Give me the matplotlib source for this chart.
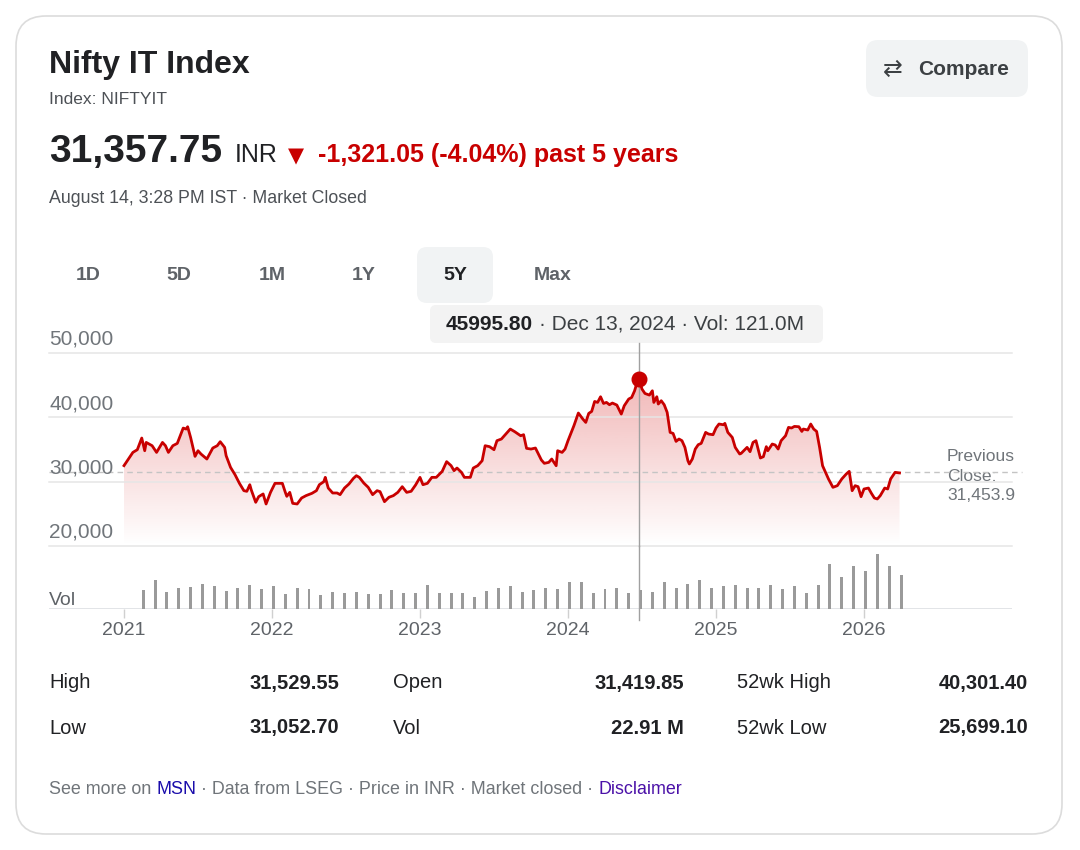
import numpy as np
import matplotlib
matplotlib.use("Agg")
import matplotlib.pyplot as plt
from matplotlib.patches import FancyBboxPatch
from matplotlib.colors import to_rgb

plt.rcParams['font.family'] = ['Liberation Sans', 'DejaVu Sans']

# ---------------- data ----------------
title = "Nifty IT Index"
subtitle = "Index: NIFTYIT"
last_price = "31,357.75"
currency = "INR"
change_text = "-1,321.05 (-4.04%) past 5 years"
timestamp = "August 14, 3:28 PM IST · Market Closed"
ranges = ["1D", "5D", "1M", "1Y", "5Y", "Max"]
active_range = "5Y"
tooltip_price = "45995.80"
tooltip_rest = "· Dec 13, 2024 · Vol: 121.0M"
prev_close = 31453.9
prev_close_label = "Previous\nClose:\n31,453.9"

price_t = [2021.00, 2021.03, 2021.06, 2021.09, 2021.12, 2021.14, 2021.15, 2021.19, 2021.22, 2021.26,
           2021.28, 2021.30, 2021.33, 2021.36, 2021.40, 2021.42, 2021.43, 2021.45, 2021.48, 2021.50,
           2021.52, 2021.56, 2021.60, 2021.63, 2021.65, 2021.68, 2021.69, 2021.72, 2021.75, 2021.78,
           2021.81, 2021.83, 2021.85, 2021.86, 2021.89, 2021.91, 2021.94, 2021.96, 2021.99, 2022.02,
           2022.07, 2022.09, 2022.10, 2022.12, 2022.14, 2022.17, 2022.20, 2022.23, 2022.27, 2022.30,
           2022.32, 2022.35, 2022.36, 2022.38, 2022.41, 2022.44, 2022.46, 2022.49, 2022.52, 2022.55,
           2022.57, 2022.59, 2022.62, 2022.65, 2022.68, 2022.71, 2022.73, 2022.76, 2022.79, 2022.82,
           2022.85, 2022.88, 2022.91, 2022.94, 2022.97, 2023.00, 2023.02, 2023.05, 2023.08, 2023.11,
           2023.15, 2023.18, 2023.21, 2023.23, 2023.25, 2023.28, 2023.30, 2023.34, 2023.36, 2023.39,
           2023.42, 2023.44, 2023.47, 2023.50, 2023.52, 2023.55, 2023.58, 2023.61, 2023.64, 2023.68,
           2023.70, 2023.72, 2023.75, 2023.78, 2023.82, 2023.84, 2023.87, 2023.89, 2023.92, 2023.93,
           2023.96, 2023.98, 2024.00, 2024.04, 2024.07, 2024.10, 2024.12, 2024.14, 2024.16, 2024.18,
           2024.20, 2024.22, 2024.24, 2024.26, 2024.28, 2024.30, 2024.33, 2024.34, 2024.36, 2024.38,
           2024.41, 2024.43, 2024.45, 2024.46, 2024.48, 2024.50, 2024.52, 2024.55, 2024.57, 2024.58,
           2024.60, 2024.61, 2024.63, 2024.65, 2024.67, 2024.69, 2024.71, 2024.73, 2024.75, 2024.77,
           2024.79, 2024.81, 2024.82, 2024.84, 2024.86, 2024.88, 2024.90, 2024.93, 2024.95, 2024.98,
           2025.00, 2025.02, 2025.05, 2025.06, 2025.08, 2025.11, 2025.13, 2025.16, 2025.17, 2025.21,
           2025.23, 2025.25, 2025.27, 2025.30, 2025.32, 2025.34, 2025.35, 2025.38, 2025.40, 2025.42,
           2025.44, 2025.47, 2025.49, 2025.51, 2025.53, 2025.56, 2025.58, 2025.59, 2025.62, 2025.64,
           2025.66, 2025.68, 2025.70, 2025.72, 2025.74, 2025.76, 2025.79, 2025.82, 2025.85, 2025.88,
           2025.90, 2025.92, 2025.94, 2025.96, 2025.98, 2026.00, 2026.03, 2026.05, 2026.07, 2026.09,
           2026.11, 2026.14, 2026.16, 2026.18, 2026.21, 2026.24]

price_v = [32490, 33520, 34550, 34970, 36780, 34810, 36100, 35590, 34550, 36100,
           35590, 34550, 35590, 35950, 38330, 38180, 38540, 36880, 33930, 34810,
           34300, 33520, 35230, 35590, 36210, 35330, 34040, 32220, 31090, 29740,
           28600, 28500, 29530, 28710, 26790, 27670, 28090, 26530, 28340, 29740,
           29740, 28340, 27720, 28340, 26630, 26530, 27460, 27830, 28190, 28600,
           29530, 30000, 30670, 29010, 28240, 28240, 27980, 29010, 29640, 30510,
           30930, 30670, 29790, 29120, 27980, 28600, 28450, 26890, 27570, 27830,
           28340, 29220, 28340, 28500, 29480, 30670, 29530, 29740, 30670, 30670,
           31600, 33110, 32490, 31710, 32120, 31450, 30670, 30670, 32120, 32490,
           33260, 35590, 35440, 34970, 36370, 36630, 37400, 38180, 37770, 37140,
           37300, 35180, 35070, 35230, 33370, 32850, 33000, 33520, 32480, 34810,
           34550, 35070, 36370, 38700, 40670, 39740, 39210, 40610, 40920, 42470,
           42320, 43200, 42160, 42320, 41960, 42220, 41910, 41450, 40510, 41800,
           42840, 43090, 44130, 44910, 45995.80, 44390, 43710, 43460, 44130, 42320,
           43200, 42070, 42580, 41960, 40770, 37660, 37500, 36260, 36630, 36370,
           35330, 33260, 32750, 33520, 35070, 35750, 35950, 37660, 37400, 37300,
           38340, 38960, 38850, 39060, 37660, 36880, 35330, 34300, 34400, 35330,
           34660, 36100, 36370, 33680, 33880, 35440, 34810, 35850, 35700, 35070,
           36370, 37140, 38440, 38340, 38590, 38540, 37810, 38180, 38030, 38960,
           38180, 37810, 35330, 32480, 31450, 30420, 29120, 29380, 30420, 31190,
           31600, 28600, 29380, 29220, 27670, 28860, 29010, 28190, 27460, 27310,
           27830, 29010, 28860, 30420, 31450, 31357.75]

vol_start = 2021.13
vol_step = 0.08
vol_m = [121, 184, 106, 131, 138, 157, 146, 117, 134, 153,
         125, 144, 95, 131, 125, 87, 110, 104, 106, 95,
         95, 121, 102, 104, 153, 102, 102, 102, 78, 117,
         131, 144, 108, 121, 136, 127, 174, 172, 100, 129,
         131, 104, 121, 108, 174, 131, 157, 184, 136, 146,
         153, 136, 131, 153, 125, 148, 102, 153, 286, 201,
         276, 242, 348, 273, 218]
vol_t = vol_start + vol_step * np.arange(len(vol_m))

year_ticks = [2021, 2022, 2023, 2024, 2025, 2026]
price_ticks = [20000, 30000, 40000, 50000]

stats_rows = [
    [("High", "31,529.55"), ("Open", "31,419.85"), ("52wk High", "40,301.40")],
    [("Low", "31,052.70"), ("Vol", "22.91 M"), ("52wk Low", "25,699.10")],
]

# ---------------- style ----------------
RED = "#c80000"
DARK = "#202124"
GRAY = "#5f6368"
LGRAY = "#70757a"
GRID = "#e6e6e6"

W, H = 1080, 850
fig = plt.figure(figsize=(W / 100, H / 100), dpi=100)
fig.patch.set_facecolor("white")

bg = fig.add_axes([0, 0, 1, 1])
bg.set_xlim(0, W)
bg.set_ylim(H, 0)
bg.axis("off")
bg.set_zorder(0)

def fr(x0, y0, x1, y1):
    return [x0 / W, 1 - y1 / H, (x1 - x0) / W, (y1 - y0) / H]

# card
bg.add_patch(FancyBboxPatch((16, 16), 1046, 818, boxstyle="round,pad=0,rounding_size=30",
                            fc="white", ec="#dcdcdc", lw=1.2))

renderer = fig.canvas.get_renderer()

def seq(parts, x, y, **kw):
    for s, color, weight, gap in parts:
        t = bg.text(x, y, s, color=color, fontweight=weight, **kw)
        x += t.get_window_extent(renderer).width + gap
    return x

# header
bg.text(49, 73, title, fontsize=23, fontweight="bold", color=DARK, va="baseline")
bg.text(49, 104, subtitle, fontsize=12.5, color="#4d5156", va="baseline")
bg.text(49, 162, last_price, fontsize=28, fontweight="bold", color=DARK, va="baseline")
bg.text(235, 162, currency, fontsize=18, color=DARK, va="baseline")
bg.text(288, 162, "▼", fontsize=15, color=RED, va="baseline", family=["DejaVu Sans"])
bg.text(318, 162, change_text, fontsize=18, fontweight="bold", color=RED, va="baseline")
bg.text(49, 203, timestamp, fontsize=12.8, color="#4d5156", va="baseline")

# compare button
bg.add_patch(FancyBboxPatch((866, 40), 162, 57, boxstyle="round,pad=0,rounding_size=12",
                            fc="#f1f3f4", ec="none"))
bg.text(893, 69, "⇄", fontsize=17, color="#3c4043", va="center", ha="center",
        family=["DejaVu Sans"])
bg.text(918, 69, "Compare", fontsize=15, fontweight="bold", color="#3c4043", va="center")

# range tabs
tab_x = [88, 179, 272, 364, 455, 553]
for lab, tx in zip(ranges, tab_x):
    if lab == active_range:
        bg.add_patch(FancyBboxPatch((417, 247), 76, 56, boxstyle="round,pad=0,rounding_size=10",
                                    fc="#f1f3f4", ec="none"))
        col = DARK
    else:
        col = GRAY
    bg.text(tx, 275, lab, fontsize=14, fontweight="bold", color=col, ha="center", va="center")

# ---------------- price chart ----------------
ax = fig.add_axes(fr(49, 353, 1012, 546))
ax.set_zorder(2)
ax.patch.set_alpha(0)
x_left = year_ticks[0] - 75 / 148
x_right = x_left + 963 / 148
ax.set_xlim(x_left, x_right)
ax.set_ylim(price_ticks[0], price_ticks[-1])
for s in ax.spines.values():
    s.set_visible(False)
ax.set_xticks([])
ax.set_yticks([])

t_arr = np.array(price_t)
v_arr = np.array(price_v)

# gradient fill
poly = ax.fill_between(t_arr, v_arr, price_ticks[0], color="none", lw=0)
vmax = v_arr.max()
n = 256
grad = np.zeros((n, 1, 4))
r, g, b = to_rgb("#d21010")
grad[:, 0, 0], grad[:, 0, 1], grad[:, 0, 2] = r, g, b
grad[:, 0, 3] = np.linspace(0.30, 0.0, n)
img = ax.imshow(grad, extent=[t_arr.min(), t_arr.max(), price_ticks[0], vmax],
                aspect="auto", origin="upper", zorder=1, interpolation="bilinear")
img.set_clip_path(poly.get_paths()[0], transform=ax.transData)
ax.set_xlim(x_left, x_right)
ax.set_ylim(price_ticks[0], price_ticks[-1])

for v in price_ticks:
    ax.axhline(v, color=GRID, lw=1.1, zorder=2, clip_on=False)
    ax.annotate(f"{v:,}", xy=(0, v), xycoords=ax.get_yaxis_transform(),
                xytext=(0, 6), textcoords="offset points", fontsize=15,
                color=LGRAY, va="baseline", ha="left")

ax.axhline(prev_close, xmin=0, xmax=1.01, color="#c4c4c4", lw=1, ls=(0, (4, 3)),
           zorder=2, clip_on=False)

ax.plot(t_arr, v_arr, color=RED, lw=2.0, zorder=4, solid_joinstyle="round")

ipk = int(np.argmax(v_arr))
ax.axvline(t_arr[ipk], ymin=0, ymax=1.052, color="#a0a0a0", lw=1, zorder=3, clip_on=False)
ax.plot(t_arr[ipk], v_arr[ipk], "o", ms=10.5, color=RED, zorder=5, clip_on=False)

bg.text(947, 476, prev_close_label, fontsize=12.6, color=LGRAY, va="center",
        ha="left", linespacing=1.35)

# tooltip
bg.add_patch(FancyBboxPatch((430, 305), 393, 38, boxstyle="round,pad=0,rounding_size=6",
                            fc="#f3f3f3", ec="none", zorder=3))
seq([(tooltip_price, DARK, "bold", 6), (tooltip_rest, "#3c4043", "normal", 0)],
    446, 324, fontsize=15, va="center", zorder=4)

# ---------------- volume ----------------
axv = fig.add_axes(fr(49, 546, 1012, 609))
axv.set_zorder(2)
axv.patch.set_alpha(0)
axv.set_xlim(x_left, x_right)
axv.set_ylim(0, 400)
for s in axv.spines.values():
    s.set_visible(False)
axv.axhline(0, color="#dadce0", lw=1.1, zorder=1)
axv.bar(vol_t, vol_m, width=3.0 / 148, color="#9a9a9a", zorder=2, lw=0)
axv.axvline(t_arr[ipk], ymin=-0.18, ymax=1, color="#a0a0a0", lw=1, zorder=3, clip_on=False)
axv.set_yticks([])
axv.set_xticks(year_ticks)
axv.set_xticklabels([str(y) for y in year_ticks], fontsize=14, color=GRAY)
axv.tick_params(axis="x", length=6.5, width=1, color="#d0d0d0", pad=3)
axv.text(0, 0, "Vol", transform=axv.transAxes, fontsize=14, color=GRAY,
         va="bottom", ha="left")

# ---------------- stats ----------------
label_x = [49, 393, 737]
value_x = [339, 684, 1028]
row_y = [683, 728]
for ry, row in zip(row_y, stats_rows):
    for (lab, val), lx, vx in zip(row, label_x, value_x):
        bg.text(lx, ry, lab, fontsize=14.5, color=DARK, va="center")
        bg.text(vx, ry, val, fontsize=14.5, fontweight="bold", color=DARK,
                va="center", ha="right")

# footer
seq([("See more on", LGRAY, "normal", 5),
     ("MSN", "#1a0dab", "normal", 5),
     ("· Data from LSEG · Price in INR · Market closed ·", LGRAY, "normal", 5),
     ("Disclaimer", "#4b11a8", "normal", 0)],
    49, 789, fontsize=12.9, va="center")

fig.savefig("out.png", dpi=100)
